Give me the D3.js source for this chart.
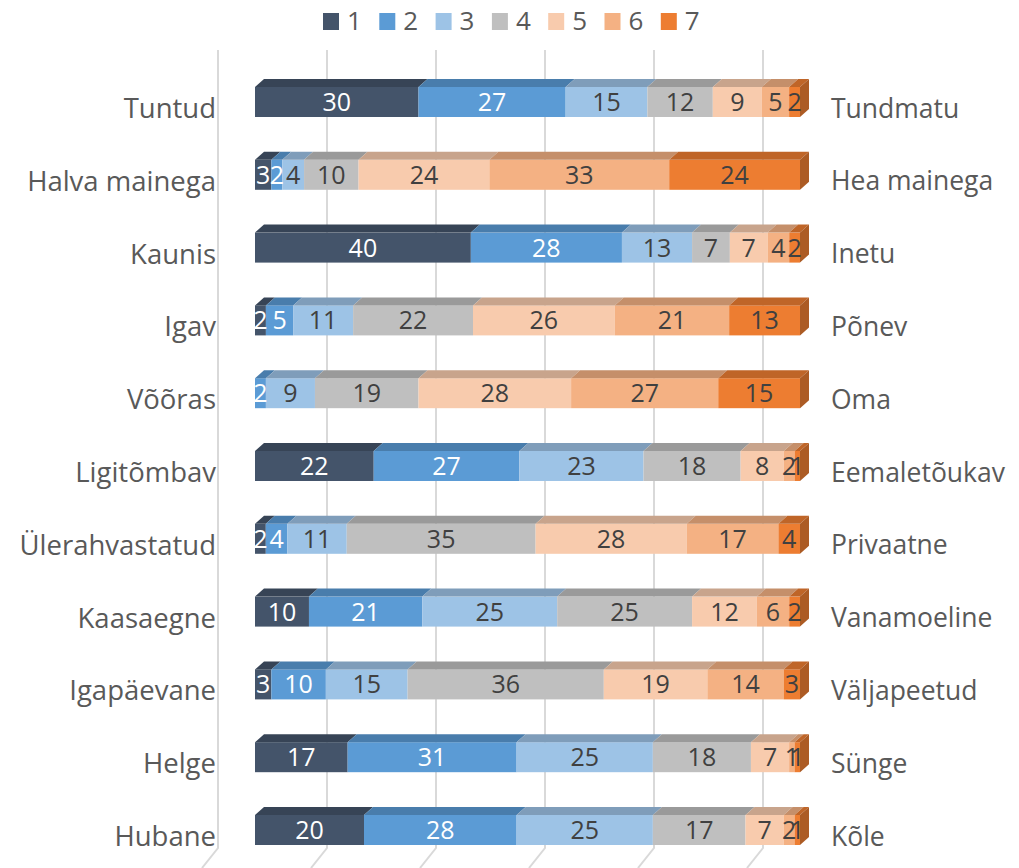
<!DOCTYPE html>
<html>
<head>
<meta charset="utf-8">
<script src="https://cdn.jsdelivr.net/npm/d3@7"></script>
<style>
  body { margin: 0; background: #fff; }
  text { font-family: "Open Sans", sans-serif; }
</style>
</head>
<body>
<div id="chart"></div>
<script>
// left / right ends of each scale
const leftLabels = ["Tuntud", "Halva mainega", "Kaunis", "Igav", "Võõras", "Ligitõmbav",
  "Ülerahvastatud", "Kaasaegne", "Igapäevane", "Helge", "Hubane"];
const rightLabels = ["Tundmatu", "Hea mainega", "Inetu", "Põnev", "Oma", "Eemaletõukav",
  "Privaatne", "Vanamoeline", "Väljapeetud", "Sünge", "Kõle"];
const seriesNames = ["1", "2", "3", "4", "5", "6", "7"];
// one row per scale, values for 1..7
const values = [
  [30, 27, 15, 12, 9, 5, 2],
  [3, 2, 4, 10, 24, 33, 24],
  [40, 28, 13, 7, 7, 4, 2],
  [2, 5, 11, 22, 26, 21, 13],
  [0, 2, 9, 19, 28, 27, 15],
  [22, 27, 23, 18, 8, 2, 1],
  [2, 4, 11, 35, 28, 17, 4],
  [10, 21, 25, 25, 12, 6, 2],
  [3, 10, 15, 36, 19, 14, 3],
  [17, 31, 25, 18, 7, 1, 1],
  [20, 28, 25, 17, 7, 2, 1]
];
const colors = ["#44546a", "#5b9bd5", "#9dc3e6", "#bfbfbf", "#f8cbad", "#f4b183", "#ed7d31"];
const gridTicks = [0, 20, 40, 60, 80, 100];

const W = 1019, H = 868;
const depth = { dx: 9, dy: 8 };

const svg = d3.select("#chart").append("svg")
  .attr("width", W).attr("height", H);

const x = d3.scaleLinear().domain([0, 100]).range([255, 800]);
const y = d3.scaleBand().domain(leftLabels)
  .range([65.6, 866.4]).paddingInner(0.588).paddingOuter(0.294);

// back wall gridlines (shifted left, slanting at the floor)
const wallShift = 37;
svg.append("g").selectAll("path").data(gridTicks).join("path")
  .attr("d", d => {
    const gx = x(d) - wallShift;
    return `M${gx},50 L${gx},848 L${gx - 16},868`;
  })
  .attr("fill", "none").attr("stroke", "#d9d9d9").attr("stroke-width", 2);

// stacked rows (normalised to 100%)
const rows = values.map((v, i) => {
  const total = d3.sum(v);
  let acc = 0;
  return v.map((val, k) => {
    const x0 = acc / total * 100;
    acc += val;
    return { row: i, key: k, val, x0, x1: acc / total * 100 };
  });
});

const g = svg.append("g");
rows.forEach((segs, i) => {
  const top = y(leftLabels[i]);
  const bh = y.bandwidth();
  const rg = g.append("g");
  const shown = segs.filter(s => s.val > 0);
  const last = shown[shown.length - 1];

  shown.forEach(s => {
    const a = x(s.x0), b = x(s.x1);
    // front face
    rg.append("rect")
      .attr("x", a).attr("y", top).attr("width", b - a).attr("height", bh)
      .attr("fill", colors[s.key]);
    // top face
    rg.append("path")
      .attr("d", `M${a},${top} L${a + depth.dx},${top - depth.dy} L${b + depth.dx},${top - depth.dy} L${b},${top} Z`)
      .attr("fill", d3.color(colors[s.key]).darker(0.6));
  });
  // right side face of the last segment
  const e = x(last.x1);
  rg.append("path")
    .attr("d", `M${e},${top} L${e + depth.dx},${top - depth.dy} L${e + depth.dx},${top + bh - depth.dy} L${e},${top + bh} Z`)
    .attr("fill", d3.color(colors[last.key]).darker(0.9));

  // data labels
  rg.selectAll("text").data(shown).join("text")
    .attr("x", s => (x(s.x0) + x(s.x1)) / 2)
    .attr("y", top + bh / 2)
    .attr("dy", "0.36em")
    .attr("text-anchor", "middle")
    .attr("font-size", 25)
    .attr("fill", s => s.key < 2 ? "#ffffff" : "#404040")
    .text(s => s.val);
});

// category labels both sides
svg.append("g").selectAll("text").data(leftLabels).join("text")
  .attr("x", 216).attr("y", d => y(d) + y.bandwidth() / 2 + 6)
  .attr("dy", "0.36em").attr("text-anchor", "end")
  .attr("font-size", 27.5).attr("fill", "#595959")
  .text(d => d);

svg.append("g").selectAll("text").data(rightLabels).join("text")
  .attr("x", 831).attr("y", (d, i) => y(leftLabels[i]) + y.bandwidth() / 2 + 6)
  .attr("dy", "0.36em").attr("text-anchor", "start")
  .attr("font-size", 26.5).attr("fill", "#595959")
  .text(d => d);

// legend
const legend = svg.append("g").selectAll("g").data(seriesNames).join("g")
  .attr("transform", (d, i) => `translate(${323 + i * 56.3},0)`);
legend.append("rect").attr("x", 0).attr("y", 13).attr("width", 16).attr("height", 17)
  .attr("fill", (d, i) => colors[i]);
legend.append("text").attr("x", 24).attr("y", 21).attr("dy", "0.36em")
  .attr("font-size", 26).attr("fill", "#595959").text(d => d);
</script>
</body>
</html>
